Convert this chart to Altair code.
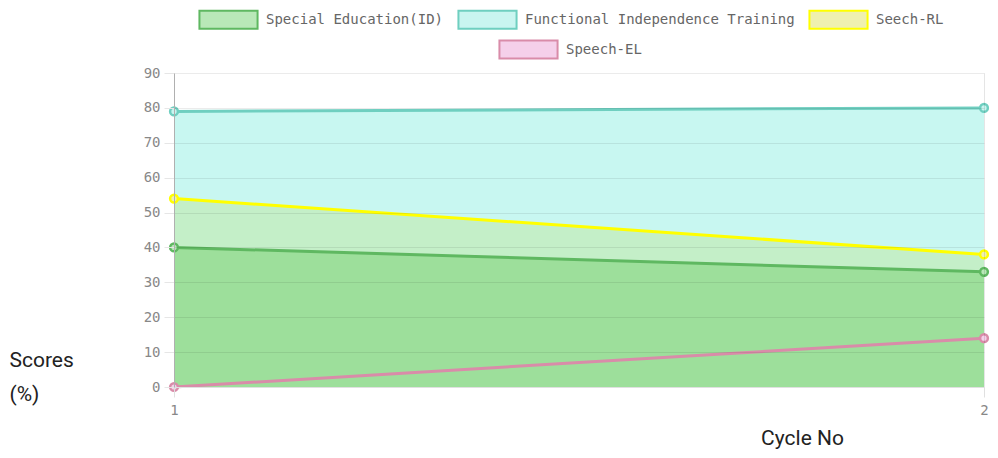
import altair as alt
import pandas as pd

cycles = [1, 2]
special_ed = [40, 33]
fit = [79, 80]
seech_rl = [54, 38]
speech_el = [0, 14]

series_names = ["Special Education(ID)", "Functional Independence Training", "Seech-RL", "Speech-EL"]
series_values = [special_ed, fit, seech_rl, speech_el]
line_colors = ["#5fb861", "#6fcfc0", "#ffff00", "#d98ca9"]
legend_fills = ["#b9e8b8", "#c9f5f0", "#eff0b0", "#f5d0ea"]
area_colors = {"Functional Independence Training": "#c8f7f1", "Seech-RL": "#c4efc8", "Special Education(ID)": "#9ddf9b"}

rows = []
for name, vals in zip(series_names, series_values):
    for c, v in zip(cycles, vals):
        rows.append({"cycle": c, "score": v, "series": name, "series2": name})
df = pd.DataFrame(rows)

base = alt.Chart(df)
xenc = alt.X("cycle:Q", scale=alt.Scale(domain=[1, 2], nice=False),
             axis=alt.Axis(values=[1, 2], format="d", title="Cycle No", labelFlush=False,
                           tickSize=10, tickColor="#e0e0e0", domainColor="#e0e0e0",
                           gridColor="#000", gridOpacity=0.1, labelPadding=6,
                           labelFont="DejaVu Sans Mono", labelFontSize=14, labelColor="#888",
                           titleFont="Roboto", titleFontSize=21, titleFontWeight="normal",
                           titleColor="#222", titleX=628, titleY=57, titleBaseline="alphabetic",
                           zindex=1))
yenc = alt.Y("score:Q", scale=alt.Scale(domain=[0, 90], nice=False),
             axis=alt.Axis(values=list(range(0, 91, 10)), title=["Scores", "(%)"],
                           tickSize=10, tickColor="#e6e6e6", domainColor="#b0b0b0",
                           gridColor="#000", gridOpacity=0.08, labelPadding=4,
                           labelFont="DejaVu Sans Mono", labelFontSize=14, labelColor="#888",
                           titleFont="Roboto", titleFontSize=21, titleFontWeight="normal",
                           titleColor="#222", titleAngle=0, titleAlign="left", titleBaseline="top",
                           titleX=-165, titleY=276, titleLineHeight=34, zindex=1))

layers = []
for name in ["Functional Independence Training", "Seech-RL", "Special Education(ID)"]:
    layers.append(base.transform_filter(alt.datum.series == name)
                  .mark_area(color=area_colors[name], opacity=1)
                  .encode(x=xenc, y=yenc))
for name, col in zip(series_names, line_colors):
    layers.append(base.transform_filter(alt.datum.series == name)
                  .mark_line(color=col, strokeWidth=3)
                  .encode(x=xenc, y=yenc))

rect_path = "M-3.2,-1H3.2V1H-3.2Z"
leg1 = alt.Legend(title=None, orient="none", legendX=24, legendY=-64, direction="horizontal",
                  symbolType=rect_path, symbolSize=330, symbolStrokeWidth=2, symbolOffset=20,
                  labelOffset=27, columnPadding=10, labelFont="DejaVu Sans Mono", labelLimit=400,
                  labelFontSize=14, labelColor="#666", padding=0)
first3 = series_names[:3]
layers.append(base.transform_filter(alt.FieldOneOfPredicate(field="series", oneOf=first3))
              .mark_point(filled=True, size=60, strokeWidth=2.5, opacity=1, fillOpacity=1)
              .encode(x=xenc, y=yenc,
                      fill=alt.Fill("series:N", scale=alt.Scale(domain=first3, range=legend_fills[:3]), legend=leg1),
                      stroke=alt.Stroke("series:N", scale=alt.Scale(domain=first3, range=line_colors[:3]), legend=leg1)))

leg2 = alt.Legend(title=None, orient="none", legendX=324, legendY=-34, direction="horizontal",
                  symbolType=rect_path, symbolSize=330, symbolStrokeWidth=2, symbolOffset=20,
                  symbolStrokeColor=line_colors[3], labelOffset=27, labelFont="DejaVu Sans Mono",
                  labelFontSize=14, labelColor="#666", padding=0, labelLimit=400)
layers.append(base.transform_filter(alt.datum.series == "Speech-EL")
              .mark_point(filled=True, size=60, strokeWidth=2.5, stroke=line_colors[3], opacity=1, fillOpacity=1)
              .encode(x=xenc, y=yenc,
                      color=alt.Color("series2:N", scale=alt.Scale(domain=["Speech-EL"], range=[legend_fills[3]]), legend=leg2)))

chart = alt.layer(*layers).properties(
    width=810, height=314,
    autosize=alt.AutoSizeParams(type="none"),
    padding={"left": 166, "top": 65, "right": 6, "bottom": 63}
).configure_view(strokeWidth=0).resolve_scale(color="independent")

chart.save("out.html", embed_options={"renderer": "svg", "actions": False})
